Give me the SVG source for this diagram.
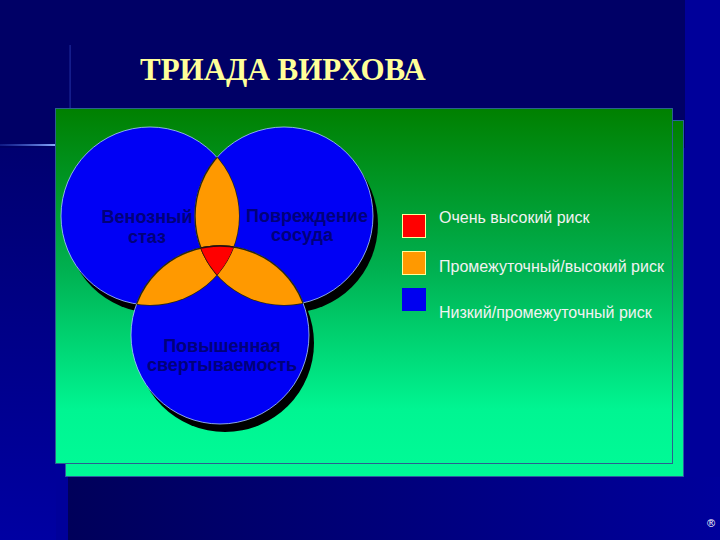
<svg xmlns="http://www.w3.org/2000/svg" width="720" height="540" viewBox="0 0 720 540">
  <defs>
    <linearGradient id="panelGrad" x1="0" y1="0" x2="0" y2="1">
      <stop offset="0" stop-color="#008000"/>
      <stop offset="0.45" stop-color="#00B050"/>
      <stop offset="0.85" stop-color="#00F592"/>
      <stop offset="1" stop-color="#00FA96"/>
    </linearGradient>
    <linearGradient id="leftStrip" x1="0" y1="0" x2="0" y2="1">
      <stop offset="0" stop-color="#000070"/>
      <stop offset="1" stop-color="#0000A2"/>
    </linearGradient>
    <linearGradient id="bottomStrip" x1="0" y1="0" x2="1" y2="0">
      <stop offset="0" stop-color="#00005A"/>
      <stop offset="1" stop-color="#00009C"/>
    </linearGradient>
    <linearGradient id="hLine" x1="0" y1="0" x2="1" y2="0">
      <stop offset="0" stop-color="#3355CC" stop-opacity="0.3"/>
      <stop offset="1" stop-color="#88AAFF"/>
    </linearGradient>
    <clipPath id="clipL"><circle cx="150" cy="216" r="89"/></clipPath>
    <clipPath id="clipR"><circle cx="284" cy="216" r="89"/></clipPath>
    <clipPath id="clipB"><circle cx="220" cy="335" r="89"/></clipPath>
    <style>
      .shadow { fill: #000000; }
      .circ { fill: #0000F5; stroke: #AACCFF; stroke-width: 0.8; }
      .lens { fill: #FF9900; stroke: #2A2A10; stroke-width: 1.4; }
      .core { fill: #FF0000; stroke: #2A1010; stroke-width: 1.4; }
      .clabel { font-family: "Liberation Sans", Arial, sans-serif; font-weight: bold; font-size: 18px; fill: #00007A; text-anchor: middle; }
      .ltext { font-family: "Liberation Sans", Arial, sans-serif; font-size: 16px; fill: #F2F2F2; }
      .ttl { font-family: "Liberation Serif", "DejaVu Serif", serif; font-weight: bold; font-size: 31px; fill: #FFFF99; }
    </style>
  </defs>

  <!-- background -->
  <rect x="0" y="0" width="720" height="540" fill="#00009A"/>
  <rect x="0" y="0" width="685" height="148" fill="#000066"/>
  <rect x="0" y="148" width="56" height="392" fill="url(#leftStrip)"/>
  <rect x="68" y="477" width="652" height="63" fill="url(#bottomStrip)"/>
  <rect x="0" y="144" width="55" height="2" fill="url(#hLine)"/>
  <rect x="69.5" y="45" width="1.2" height="63" fill="#2A3AB0" opacity="0.7"/>

  <text class="ttl" x="140" y="80">ТРИАДА ВИРХОВА</text>

  <!-- panel -->
  <g id="panel">
    <rect x="65.5" y="120.5" width="618" height="356" fill="url(#panelGrad)" stroke="#2B5FA0" stroke-width="1"/>
    <rect x="55.5" y="108.5" width="617" height="355" fill="url(#panelGrad)" stroke="#2B5F90" stroke-width="1"/>
  </g>

  <!-- Venn diagram -->
  <g id="shadows">
    <circle class="shadow" cx="155" cy="224" r="89"/>
    <circle class="shadow" cx="289" cy="224" r="89"/>
    <circle class="shadow" cx="225" cy="343" r="89"/>
  </g>
  <g id="node-venous">
    <circle class="circ" cx="150" cy="216" r="89"/>
  </g>
  <g id="node-vessel">
    <circle class="circ" cx="284" cy="216" r="89"/>
  </g>
  <g id="node-coag">
    <circle class="circ" cx="220" cy="335" r="89"/>
  </g>
  <g id="overlaps">
    <g clip-path="url(#clipR)"><circle class="lens" cx="150" cy="216" r="89"/></g>
    <g clip-path="url(#clipL)"><circle class="lens" cx="284" cy="216" r="89"/></g>
    <g clip-path="url(#clipB)"><circle class="lens" cx="150" cy="216" r="89"/></g>
    <g clip-path="url(#clipL)"><circle class="lens" cx="220" cy="335" r="89"/></g>
    <g clip-path="url(#clipB)"><circle class="lens" cx="284" cy="216" r="89"/></g>
    <g clip-path="url(#clipR)"><circle class="lens" cx="220" cy="335" r="89"/></g>
    <g clip-path="url(#clipR)"><g clip-path="url(#clipB)"><circle class="core" cx="150" cy="216" r="89"/></g></g>
    <g clip-path="url(#clipL)"><g clip-path="url(#clipB)"><circle class="core" cx="284" cy="216" r="89"/></g></g>
    <g clip-path="url(#clipL)"><g clip-path="url(#clipR)"><circle class="core" cx="220" cy="335" r="89"/></g></g>
  </g>
  <g id="labels">
    <text class="clabel" x="147" y="223">Венозный</text>
    <text class="clabel" x="147" y="243">стаз</text>
    <text class="clabel" x="307" y="222">Повреждение</text>
    <text class="clabel" x="302" y="241">сосуда</text>
    <text class="clabel" x="222" y="352">Повышенная</text>
    <text class="clabel" x="222" y="371">свертываемость</text>
  </g>

  <!-- legend -->
  <g id="legend-high">
    <rect x="402.5" y="214.5" width="23" height="23" fill="#FF0000" stroke="#FFFF99" stroke-width="1"/>
    <text class="ltext" x="439" y="223">Очень высокий риск</text>
  </g>
  <g id="legend-mid">
    <rect x="402.5" y="251.5" width="23" height="23" fill="#FF9900" stroke="#FFFF99" stroke-width="1"/>
    <text class="ltext" x="439" y="272">Промежуточный/высокий риск</text>
  </g>
  <g id="legend-low">
    <rect x="402" y="288" width="24" height="23" fill="#0000F0"/>
    <text class="ltext" x="439" y="318">Низкий/промежуточный риск</text>
  </g>

  <text x="707" y="527" font-family="Liberation Sans, Arial, sans-serif" font-size="11" fill="#FFFFFF">®</text>
</svg>
